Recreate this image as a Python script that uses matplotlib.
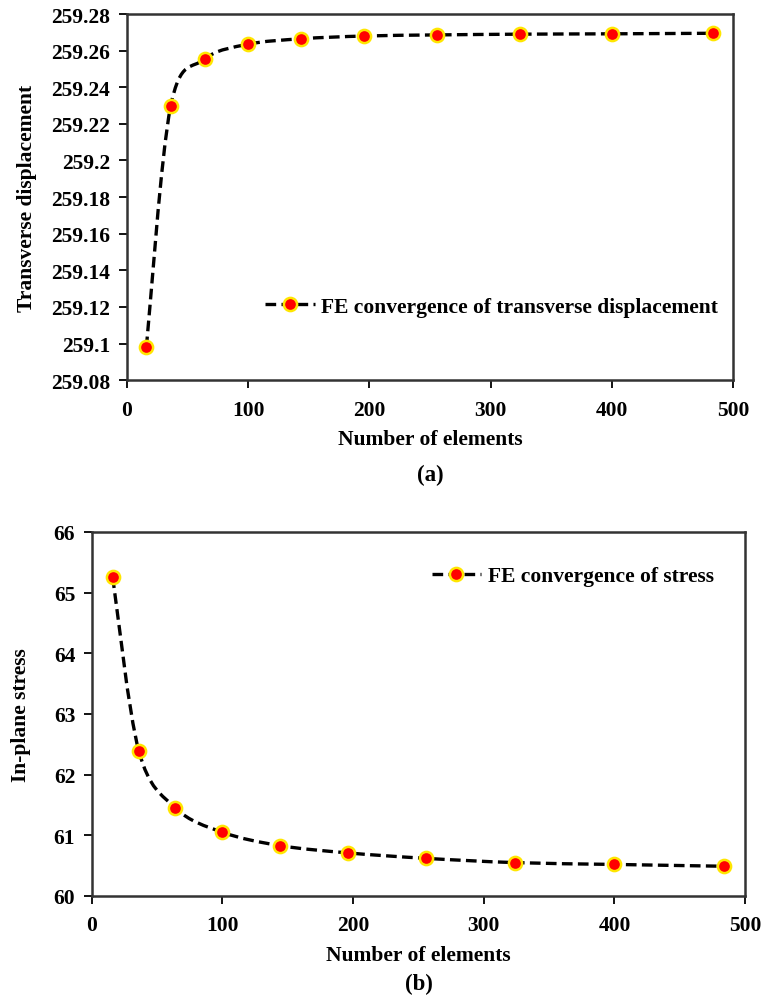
import numpy as np
import matplotlib.pyplot as plt
from matplotlib.path import Path
from matplotlib.patches import PathPatch
from matplotlib.lines import Line2D

# mesh sizes (number of elements)
elements = [16, 36, 64, 100, 144, 196, 256, 324, 400, 484]
# (a) transverse displacement
disp = [259.098, 259.2295, 259.2553, 259.2635, 259.2665, 259.268,
        259.2686, 259.2690, 259.2692, 259.2695]
# (b) in-plane stress
stress = [65.25, 62.39, 61.45, 61.05, 60.83, 60.71, 60.62, 60.55, 60.52, 60.49]

plt.rcParams['font.family'] = ['Liberation Serif', 'DejaVu Serif']
plt.rcParams['font.weight'] = 'bold'

FS = 15.5


def smooth_path(x, y):
    # Excel-style smoothed line: cubic bezier through every point
    x = np.asarray(x, float)
    y = np.asarray(y, float)
    verts = [(x[0], y[0])]
    codes = [Path.MOVETO]
    n = len(x)
    for i in range(n - 1):
        x0, y0 = (x[i - 1], y[i - 1]) if i > 0 else (x[i], y[i])
        x3, y3 = (x[i + 2], y[i + 2]) if i + 2 < n else (x[i + 1], y[i + 1])
        c1 = (x[i] + (x[i + 1] - x0) / 6, y[i] + (y[i + 1] - y0) / 6)
        c2 = (x[i + 1] - (x3 - x[i]) / 6, y[i + 1] - (y3 - y[i]) / 6)
        verts += [c1, c2, (x[i + 1], y[i + 1])]
        codes += [Path.CURVE4] * 3
    return Path(verts, codes)


def draw(ax, y, ylim, yticks, yfmt, ylabel, label, loc, bbox, ypad):
    ax.add_patch(PathPatch(smooth_path(elements, y), fill=False, edgecolor='black',
                           lw=2.4, linestyle=(0, (3.2, 1.6)), zorder=2))
    ax.plot(elements, y, linestyle='none', marker='o', ms=9.5, mfc='#ff0000',
            mec='#ffe600', mew=1.8, zorder=3)
    ax.set_xlim(0, 500)
    ax.set_ylim(*ylim)
    ax.set_xticks(range(0, 501, 100))
    ax.set_yticks(yticks)
    ax.set_yticklabels([yfmt(v) for v in yticks])
    ax.tick_params(direction='out', length=6, width=1.3, labelsize=FS, colors='black')
    ax.tick_params(axis='x', pad=8)
    ax.tick_params(axis='y', pad=6)
    ax.tick_params(top=False, right=False)
    for s in ax.spines.values():
        s.set_linewidth(1.8)
        s.set_color('#333333')
    ax.set_xlabel('Number of elements', fontsize=FS, fontweight='bold', labelpad=7)
    ax.set_ylabel(ylabel, fontsize=FS, fontweight='bold', labelpad=ypad)
    h = Line2D([], [], color='black', lw=2.4, linestyle=(0, (3.2, 1.6)), marker='o',
               ms=9.5, mfc='#ff0000', mec='#ffe600', mew=1.8)
    ax.legend([h], [label], loc=loc, bbox_to_anchor=bbox, frameon=False, fontsize=FS,
              handlelength=2.3, handletextpad=0.3, borderaxespad=0)


fig = plt.figure(figsize=(7.65, 10.03), dpi=100)

ax1 = fig.add_axes([0.166, 0.620, 0.792, 0.365])
draw(ax1, disp, (259.08, 259.28), np.round(np.arange(259.08, 259.2801, 0.02), 2),
     lambda v: f'{v:g}',
     'Transverse displacement', 'FE convergence of transverse displacement',
     'lower right', (0.99, 0.15), 10)
fig.text(0.563, 0.526, '(a)', ha='center', va='center', fontsize=16.5, fontweight='bold')

ax2 = fig.add_axes([0.120, 0.1057, 0.854, 0.363])
draw(ax2, stress, (60, 66), range(60, 67), lambda v: f'{v:d}',
     'In-plane stress', 'FE convergence of stress', 'upper right', (0.965, 0.93), 16)
fig.text(0.548, 0.018, '(b)', ha='center', va='center', fontsize=16.5, fontweight='bold')

fig.savefig('out.png', dpi=100)
